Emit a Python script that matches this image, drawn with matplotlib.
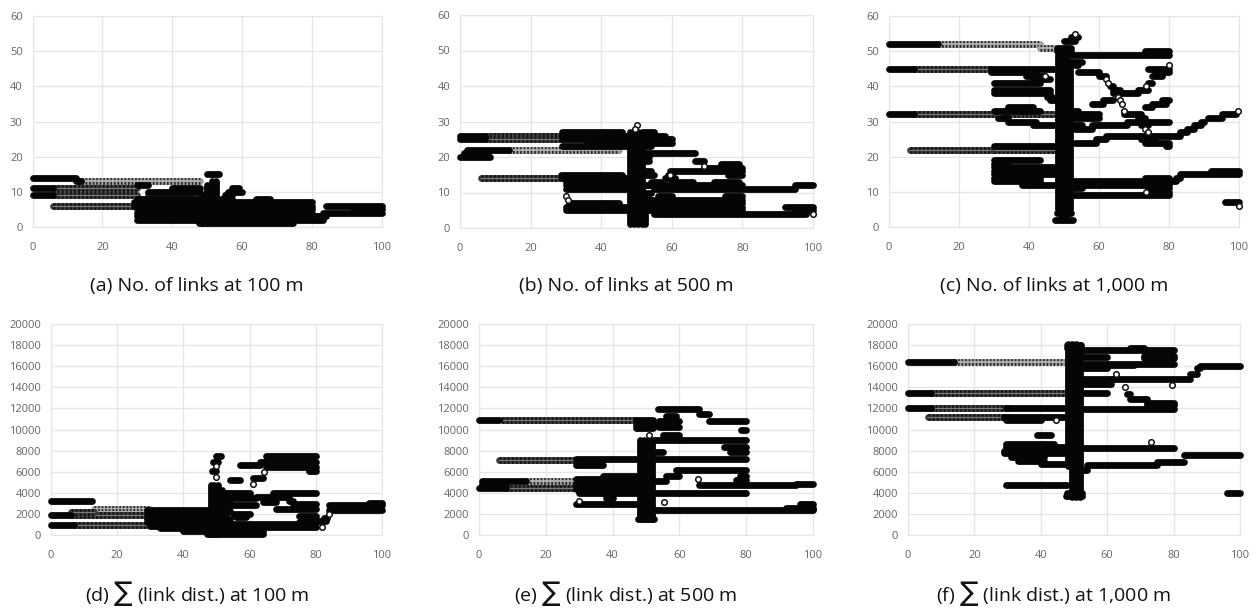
#!/usr/bin/env python3
"""Six scatter panels: number of links and summed link distance vs position."""
import matplotlib
matplotlib.use("Agg")
import matplotlib.pyplot as plt

W, H = 1258, 609
GRID = "#e6e6e6"
TICK = "#666666"
BAND = 4.9   # band thickness in pt, same as the overlapping markers

# each band: (x start, x end, y); cols: (x, y start, y end); open: single rings
# solid = markers fully overlapped, dense = nearly, sparse = separate rings visible
a_solid = [(0,12.5,14),(12.5,14,13),(0,6,11),(0,6,9),(29,80,7),(29,80,6),(30,80,5),(30,80,4),(30,80,3),
    (30,83,2),(47.5,74.5,1),(50,53.5,15),(30,33,12),(30,48,8),(30,48,7.5),(81,84,3),(55,57,9),(56,60,10),
    (57,59,11),(53,56,6),(54,57,8),(64,68,8),(84,100,6),(83,100,4),(92,100,5),(33,48,10),(40,48,11)]
a_dense = [(6,30,11),(6,30,9),(6,29,6),(33,45,9)]
a_sparse = [(13,48,13)]
a_cols = [(48.5,1,9),(50,1,12),(51.5,2,13),(52.5,5,13)]
a_open = []

b_solid = [(0,7,26),(0,7,25),(29,46,27),(29,48,26),(29,48,25),(36,48,24),(29,47,23),(2,14,22),(1,8,21),
    (0,8.5,20),(28.5,46,15),(28.5,48,14),(30,48,13),(30,48,12),(30,48,11),(31,45,7),(30,48,6),(30,48,5),
    (52,58,26),(52,60,25),(53,60,24),(52,55,27),(52,66.5,21),(66.5,69,19),(69,80,17),(59.5,80,16),(74,79,18),
    (76,80,15),(59,60,15),(58,61,14),(54,57,13),(60,66,13),(72,79,13),(53,58,12),(58,80,12),(55,95,11),
    (95,100,12),(56,60,9),(75,80,9),(56,80,8),(55,80,7),(55,80,6),(55,80,5),(55,98,4),(92,100,6),(95,100,5),
    (52,56,5),(52,56,6),(52,56,7),(52,55,8),(52,54,10),(52,54,12),(52,55,15),(52,54,16),(52,53.5,19),
    (52,53.5,20),(52,54,23),(52,53,9)]
b_dense = [(7,29,26),(7,29,25),(6,28,14)]
b_sparse = [(14,45,22)]
b_cols = [(48.2,1,27),(49.2,1,27),(50.5,1,27),(51.6,1,27),(52.3,1,8)]
b_open = [(30,9),(30.5,8),(50,29),(49.7,28),(100,4),(69,17.5),(59.5,15)]

c_solid = [(0,14,52),(48.5,80,49),(73,80,50),(29,48,45),(29,42,44),(39,44,43),(41,46,42),(30,43,41),
    (30,46,39),(30,46,38),(45,46.5,37),(46,48,36),(0,7,45),(0,7,32),(30,33,33),(31,34,31),(34,41,34),
    (33,43,33),(34,42,30),(41,48,29),(30,48,23),(30,43,19),(30,34,18),(30,47,17),(30,47,16),
    (30,47,15),(30,43,14),(30,43,13),(38,48,12),(50,53,53),(52,54,54),(52,55,47),(53,54,46),(54,60,44),
    (60,62,43),(63,64,40),(64,66,39),(64,71,38),(71,74,39),(74,75,41),(75,78,43),(74,80,45),(76,80,44),
    (67,72,32),(71,73,31),(58,61,35),(61,64,36),(73,75,34),(75,79,35),(78,80,36),(52,60,32),(52,60,31),
    (52,54,33),(52,55,29),(53,58,28),(58,68,29),(68,74,30),(74,80,30),(72,74,29),(53,59,24),(59,62,25),
    (62,83,26),(83,85,27),(85,87,28),(87,89,29),(89,90,30),(91,95,31),(95,99,32),(72,76,25),(73,80,24),
    (79,80,23),(52,82,13),(52,80,12),(52,55,11),(73,80,14),(74,80,11),(74,80,10),(52,80,9),(82,83,14),
    (83,100,15),(92,100,16),(96,100,7),(47.5,52.5,2),(48,52,4),(48,52,51),(48,52,50)]
c_dense = [(7,29,45),(7,30,32),(33,48,32),(6,30,22),(30,48,22)]
c_sparse = [(14,43,52),(43,47,51)]
c_cols = [(48.2,5,49),(49.3,3,50),(50.6,3,51),(51.8,5,47)]
c_open = [(62,42),(62.5,41),(65.5,37),(66,36),(66.5,35),(67,33),(73.5,40),(73,28),(74,27),(44.5,43),(53,55),
    (100,6),(80,46),(99.8,33),(73.5,10)]

d_solid = [(0,12.5,3200),(0,6,1850),(0,7,950),(29,48,2400),(29,48,2100),(29,48,1800),(29,48,1500),(29,48,1200),
    (30,48,900),(33,48,700),(40,64,400),(47,64,100),(52,80,800),(52,75,1000),(75,80,1200),(75,80,1800),
    (48.5,50,6100),(49,50.5,6900),(50,51.5,7500),(54,57,5200),(57,63,6650),(61,64,5400),(63,80,6900),
    (65,80,7500),(65,80,6400),(78,80,6100),(52,60,4000),(67,80,4000),(52,62,3500),(62,72,3600),(64,68,3100),
    (72,73,3200),(73,80,2900),(68,80,2450),(52,62,2800),(55,60,2000),(56,59,1750),(52,54,2300),(80,83,1300),
    (82.5,83.5,1600),(84,100,2800),(84,100,2400),(96,100,3000),(47,64,600),(52,54,3000),(52,54,1500)]
d_dense = [(6,30,1850),(7,30,950),(6,13,2150)]
d_sparse = [(13,30,2500),(13,30,2150)]
d_cols = [(48.2,100,4700),(49.3,100,4700),(50.6,100,4700),(51.8,200,4300),(53,1000,4000)]
d_open = [(49.7,5500),(50,6500),(61,4800),(64.5,6000),(82,800),(84,2000)]

e_solid = [(0,6,10900),(47,52,10900),(47,52,10100),(47,53,10400),(53.5,66,11900),(66,69,11500),(69,80,10800),
    (54,60,10800),(56,59,11300),(54,60,10200),(78.5,80,10000),(55,60,9500),(52,80,9000),(52,55,7900),
    (73.5,80,8300),(75,80,7900),(52,80,7200),(29,47,7200),(29,37,6600),(52,56,5100),(56,60,5600),(59,80,6200),
    (78,80,5600),(77,80,5200),(66,95,4700),(95,100,4800),(53,80,4000),(1,14,5100),(1,8,4800),(0,8,4500),
    (29,48,4800),(29,48,4400),(30,48,4000),(38,40,3500),(29,48,5300),(37,47,5600),(29,48,2900),(52,100,2400),
    (92,100,2600),(96,100,2900),(98,100,2500),(47.5,52.5,1500)]
e_dense = [(7,47,10900),(6,29,7100),(8,29,4500)]
e_sparse = [(14,43,5100)]
e_cols = [(48.2,1500,9000),(49.3,1500,9000),(50.6,1500,9000),(51.8,1500,8800)]
e_open = [(65.5,5350),(55.5,3150),(30,3200),(51,9500)]

f_solid = [(0,14,16400),(0,7,13500),(0,7,12000),(29.5,47,12000),(29,47,11200),(29.5,40,10900),(39,43,9450),
    (29.5,44,8600),(29.5,48,8300),(29,48,8000),(29,48,7800),(31,41,7400),(33,41,7050),(40,48,6750),
    (29.5,48,4750),(47.5,52.5,3700),(48,52.5,4000),(52,80,17500),(67,71,17700),(52,60,16900),(71,80,17000),
    (71,80,16800),(53,80,16200),(53,60,15800),(60,68,16100),(53,62,14800),(53,61,14300),(61,85,14800),
    (85,87,15250),(87,88,15800),(88,100,16000),(52,60,13500),(66,67,13400),(67,72,12850),(72,80,12500),
    (72,80,12300),(52,80,11900),(52,80,8200),(52,54,6200),(54,75,6650),(75,83,6950),(83,100,7600),(96,100,3950),
    (48,52,18000),(48,52,17700)]
f_dense = [(7,47,13500),(7,30,12000),(6,29,11200)]
f_sparse = [(14,47,16400)]
f_cols = [(48.2,6500,18100),(49.3,3600,18100),(50.6,3600,18100),(51.8,3600,18000)]
f_open = [(62.5,15300),(65.5,14000),(79.5,14200),(73.3,8800),(44.5,10900)]

links_ticks = [0, 10, 20, 30, 40, 50, 60]
dist_ticks = [0, 2000, 4000, 6000, 8000, 10000, 12000, 14000, 16000, 18000, 20000]
x_ticks = [0, 20, 40, 60, 80, 100]

fig = plt.figure(figsize=(W / 100, H / 100), dpi=100, facecolor="white")
plt.rcParams["font.family"] = ["Open Sans", "DejaVu Sans"]

# panel: pixel box (left, right, top, bottom), ticks, data, caption, caption centre
panels = [
    ((32.5, 382, 16, 227), links_ticks, a_solid, a_dense, a_sparse, a_cols, a_open, "(a) No. of links at 100 m", (197, 286)),
    ((460, 813, 15, 228), links_ticks, b_solid, b_dense, b_sparse, b_cols, b_open, "(b) No. of links at 500 m", (626, 286)),
    ((889, 1239, 16, 227), links_ticks, c_solid, c_dense, c_sparse, c_cols, c_open, "(c) No. of links at 1,000 m", (1054, 286)),
    ((51, 382, 324, 535), dist_ticks, d_solid, d_dense, d_sparse, d_cols, d_open, r"(d) $\sum$ (link dist.) at 100 m", (197, 593)),
    ((479, 813, 324, 535), dist_ticks, e_solid, e_dense, e_sparse, e_cols, e_open, r"(e) $\sum$ (link dist.) at 500 m", (625, 593)),
    ((908, 1240, 324, 535), dist_ticks, f_solid, f_dense, f_sparse, f_cols, f_open, r"(f) $\sum$ (link dist.) at 1,000 m", (1053, 593)),
]

for (l, r, t, b), yt, solid, dense, sparse, cols, rings, cap, (cx, cy) in panels:
    ax = fig.add_axes([l / W, 1 - b / H, (r - l) / W, (b - t) / H])
    ax.set_xlim(0, 100); ax.set_ylim(yt[0], yt[-1])
    ax.set_xticks(x_ticks); ax.set_yticks(yt)
    ax.grid(True, color=GRID, lw=1); ax.set_axisbelow(True)
    ax.tick_params(length=0, labelsize=8, labelcolor=TICK)
    ax.tick_params(axis="x", pad=10.5); ax.tick_params(axis="y", pad=7)
    for s in ax.spines.values():
        s.set_color(GRID)

    for x0, x1, y in sparse:
        ax.plot([x0, x1], [y, y], color="#a0a0a0", lw=BAND, solid_capstyle="round", clip_on=False, zorder=2)
        ax.plot([x0, x1], [y, y], color="#2a2a2a", lw=BAND, ls=(0, (0.25, 0.27)), dash_capstyle="butt",
                clip_on=False, zorder=2)
        ax.plot([x0, x1], [y, y], color="#b4b4b4", lw=1.3, clip_on=False, zorder=2)
    for x0, x1, y in dense:
        ax.plot([x0, x1], [y, y], color="#3c3c3c", lw=BAND, solid_capstyle="round", clip_on=False, zorder=2)
        ax.plot([x0, x1], [y, y], color="#141414", lw=BAND, ls=(0, (0.3, 0.3)), dash_capstyle="butt",
                clip_on=False, zorder=2)
        ax.plot([x0, x1], [y, y], color="#7a7a7a", lw=0.9, clip_on=False, zorder=2)
    for x0, x1, y in solid:
        ax.plot([x0, x1], [y, y], color="#050505", lw=BAND, solid_capstyle="round", clip_on=False, zorder=3)
    for x, y0, y1 in cols:
        ax.plot([x, x], [y0, y1], color="#050505", lw=BAND, solid_capstyle="round", clip_on=False, zorder=3)
    if rings:
        ax.plot([p[0] for p in rings], [p[1] for p in rings], ls="none", marker="o", ms=4.0, mfc="white",
                mec="#111111", mew=1.1, clip_on=False, zorder=4)
    fig.text(cx / W, 1 - cy / H, cap, ha="center", va="center", fontsize=14, color="#111111")

fig.savefig("out.png", dpi=100)
